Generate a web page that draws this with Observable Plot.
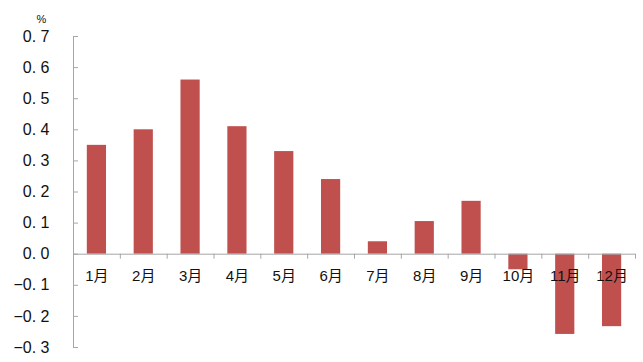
<!DOCTYPE html>
<html><head><meta charset="utf-8">
<script src="https://cdn.jsdelivr.net/npm/d3@7"></script>
<script src="https://cdn.jsdelivr.net/npm/@observablehq/plot@0.6"></script>
<style>body{margin:0;background:#fff;} #chart{position:relative;width:643px;height:362px;}</style>
</head><body><div id="chart"></div>
<script>
const months = ["1月","2月","3月","4月","5月","6月","7月","8月","9月","10月","11月","12月"];
const values = [0.35, 0.40, 0.56, 0.41, 0.33, 0.24, 0.04, 0.105, 0.17, -0.05, -0.258, -0.233];
const yTicks = [-0.3, -0.2, -0.1, 0, 0.1, 0.2, 0.3, 0.4, 0.5, 0.6, 0.7];
const unitLabel = "%";

const data = months.map((m, i) => ({month: m, value: values[i]}));
const W = 643, H = 362, mL = 73, mR = 8, mT = 36, mB = 15;
const half = (W - mL - mR) / months.length / 2;
const axisColor = "#A6A6A6";
const font = "'Liberation Sans', Arial, 'Noto Sans CJK SC', sans-serif";

const fmt = d => (d < 0 ? "\u2212" : "") + Math.abs(d).toFixed(1).replace(".", ". ");

const chart = Plot.plot({
  width: W, height: H,
  marginLeft: mL, marginRight: mR, marginTop: mT, marginBottom: mB,
  style: {fontFamily: font, background: "#fff", color: "#111"},
  x: {domain: months, paddingInner: 0.59, paddingOuter: 0.295, round: false, axis: null},
  y: {domain: [-0.3, 0.7]},
  marks: [
    Plot.axisY({ticks: yTicks, tickSize: 0, tickPadding: 24, tickFormat: fmt, fontSize: 16, label: null}),
    Plot.barY(data, {x: "month", y: "value", fill: "#C0504D"}),
    Plot.ruleY(yTicks, {y: d => d, stroke: axisColor, insetRight: (W - mL - mR) - 5}),
    Plot.ruleY([0], {stroke: axisColor}),
    Plot.ruleX([months[0]], {x: d => d, dx: -half, y1: -0.3, y2: 0.7, stroke: axisColor}),
    Plot.ruleX(months, {x: d => d, dx: half, y1: 0, y2: 0, insetBottom: -5, stroke: axisColor}),
    Plot.text(months, {x: d => d, y: 0, dy: 22, fontSize: 15, fill: "#111"}),
    Plot.text([unitLabel], {frameAnchor: "top-left", dx: -37, dy: -21, fontSize: 11, fill: "#111"})
  ]
});
document.getElementById("chart").appendChild(chart);
</script></body></html>
